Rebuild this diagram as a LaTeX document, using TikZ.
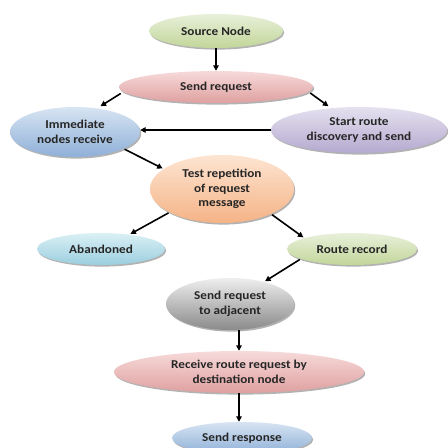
\documentclass[tikz,border=0pt]{standalone}
\usepackage{fontspec}
\setmainfont{Carlito}[FakeStretch=1.1]
\usetikzlibrary{shapes.geometric,shadows,arrows.meta}
\definecolor{txt}{HTML}{262626}
\definecolor{gnT}{HTML}{E8F0DA}\definecolor{gnB}{HTML}{C2D699}
\definecolor{pkT}{HTML}{F7DADA}\definecolor{pkB}{HTML}{DFA0A0}
\definecolor{blT}{HTML}{D7E4F2}\definecolor{blB}{HTML}{8FB0D8}
\definecolor{lvT}{HTML}{E5E1EF}\definecolor{lvB}{HTML}{B4A9CF}
\definecolor{orT}{HTML}{FDE5D2}\definecolor{orB}{HTML}{F5B386}
\definecolor{cyT}{HTML}{DAF0F5}\definecolor{cyB}{HTML}{9BCEDF}
\definecolor{gyT}{HTML}{EEEEEE}\definecolor{gyB}{HTML}{8A8A8A}
\begin{document}
\begin{tikzpicture}[x=1pt,y=-1pt,
  bub/.style={ellipse, inner sep=0pt, align=center, text=txt,
    font=\bfseries\fontsize{12}{14.5}\selectfont,
    drop shadow={shadow xshift=1.2pt, shadow yshift=-1.6pt, opacity=0.3, fill=black}},
  col/.style 2 args={top color=#1, bottom color=#2},
  arr/.style={-{Triangle[length=5.5pt,width=5.5pt]}, line width=1.6pt, black}]
\useasboundingbox (0,0) rectangle (448,448);
\clip (0,0) rectangle (448,448);
\node[bub, col={gnT}{gnB}, minimum width=134pt, minimum height=34pt] (src) at (216,31) {Source Node};
\node[bub, col={pkT}{pkB}, minimum width=194pt, minimum height=32pt] (sr) at (216,87) {Send request};
\node[bub, col={blT}{blB}, minimum width=130pt, minimum height=50pt] (imm) at (75,132) {Immediate\\nodes receive};
\node[bub, col={lvT}{lvB}, minimum width=176pt, minimum height=46pt] (st) at (359,130) {Start route\\discovery and send};
\node[bub, col={orT}{orB}, minimum width=144pt, minimum height=68pt] (tst) at (222,189) {Test repetition\\of request\\message};
\node[bub, col={cyT}{cyB}, minimum width=128pt, minimum height=32pt] (ab) at (101,249) {Abandoned};
\node[bub, col={gnT}{gnB}, minimum width=130pt, minimum height=32pt] (rr) at (352,249) {Route record};
\node[bub, col={gyT}{gyB}, minimum width=128pt, minimum height=52pt] (adj) at (230,304) {Send request\\to adjacent};
\node[bub, col={pkT}{pkB}, minimum width=250pt, minimum height=42pt] (rcv) at (239,372) {Receive route request by\\destination node};
\node[bub, col={blT}{blB}, minimum width=140pt, minimum height=32pt] (resp) at (242,438) {Send response};
\draw[arr] (src.south) -- (sr.north);
\draw[arr, shorten <=3pt, shorten >=4pt] (sr.183) -- (imm.47);
\draw[arr, shorten <=2pt, shorten >=3pt] (sr.357) -- (st.142);
\draw[arr] (st.west) -- (st.west -| imm.east);
\draw[arr, shorten <=1pt, shorten >=1pt] (imm.341) -- (tst.161);
\draw[arr, shorten <=1pt, shorten >=1pt] (tst.204) -- (ab.27);
\draw[arr, shorten <=1pt, shorten >=1pt] (tst.333) -- (rr.167);
\draw[arr, shorten <=1pt, shorten >=1pt] (rr.191) -- (adj.33);
\draw[arr] (rcv.north |- adj.south) -- (rcv.north);
\draw[arr] (rcv.south) -- (rcv.south |- resp.north);
\end{tikzpicture}
\end{document}
